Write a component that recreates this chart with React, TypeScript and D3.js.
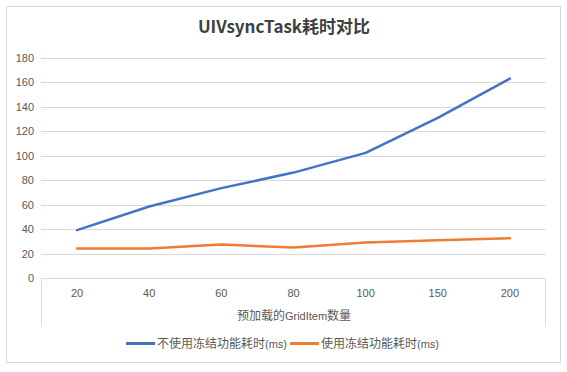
import React from 'react';
import * as d3 from 'd3';

const categories = ['20', '40', '60', '80', '100', '150', '200'];
const withoutFreeze = [39.3, 58.6, 73.6, 86.3, 102.4, 131, 163];
const withFreeze = [24.3, 24.3, 27.5, 25.1, 29.2, 31, 32.7];
const yTicks = [0, 20, 40, 60, 80, 100, 120, 140, 160, 180];

const seriesNames = ['不使用冻结功能耗时', '使用冻结功能耗时'];
const seriesUnit = '(ms)';
const seriesColors = ['#4472C4', '#ED7D31'];

const W = 567;
const H = 372;
const FONT = '"Liberation Sans", "Noto Sans CJK SC", sans-serif';
const CJK = '"Noto Sans CJK SC", "Liberation Sans", sans-serif';

const App = () => {
  const x = d3.scaleBand<string>().domain(categories).range([41, 546]).padding(0);
  const y = d3.scaleLinear().domain([0, 180]).range([278.3, 57.8]);

  const line = d3.line<number>()
    .x((_, i) => (x(categories[i]) as number) + x.bandwidth() / 2)
    .y((d) => y(d));

  const series = [withoutFreeze, withFreeze];

  return (
    <div style={{ position: 'fixed', left: 0, top: 0 }}>
      <svg width={W} height={H} style={{ display: 'block', background: '#fff' }}>
        {/* chart border */}
        <rect x={6.5} y={6.5} width={554} height={356} fill="#fff" stroke="#d9d9d9" />

        <text x={284} y={33} textAnchor="middle" fontFamily={CJK} fontWeight="bold"
          fontSize={17} fill="#404040">UIVsyncTask耗时对比</text>

        {/* gridlines + y labels */}
        {yTicks.map((t) => (
          <g key={t}>
            <line x1={41} x2={546} y1={Math.round(y(t)) + 0.5} y2={Math.round(y(t)) + 0.5}
              stroke="#d9d9d9" />
            <text x={34} y={y(t) + 4} textAnchor="end" fontFamily={FONT} fontSize={11}
              fill="#595959">{t}</text>
          </g>
        ))}

        {/* category box edges */}
        <line x1={41.5} x2={41.5} y1={y(0)} y2={325} stroke="#d9d9d9" />
        <line x1={545.5} x2={545.5} y1={y(0)} y2={325} stroke="#d9d9d9" />

        {categories.map((c) => (
          <text key={c} x={(x(c) as number) + x.bandwidth() / 2} y={297} textAnchor="middle"
            fontFamily={FONT} fontSize={11} fill="#595959">{c}</text>
        ))}

        <text x={294} y={320} textAnchor="middle" fontFamily={CJK} fontSize={12}
          fill="#595959">预加载的<tspan fontFamily={FONT} fontSize={11}>GridItem</tspan>数量</text>

        {series.map((s, i) => (
          <path key={i} d={line(s) ?? ''} fill="none" stroke={seriesColors[i]}
            strokeWidth={2.5} strokeLinejoin="round" strokeLinecap="round" />
        ))}

        {/* legend */}
        {[126, 290].map((lx, i) => (
          <g key={i}>
            <line x1={lx} x2={lx + 29} y1={343.5} y2={343.5} stroke={seriesColors[i]} strokeWidth={3} />
            <text x={lx + 31} y={347.5} fontFamily={CJK} fontSize={12} fill="#595959">
              {seriesNames[i]}<tspan fontFamily={FONT} fontSize={11}>{seriesUnit}</tspan>
            </text>
          </g>
        ))}
      </svg>
    </div>
  );
};

export default App;
